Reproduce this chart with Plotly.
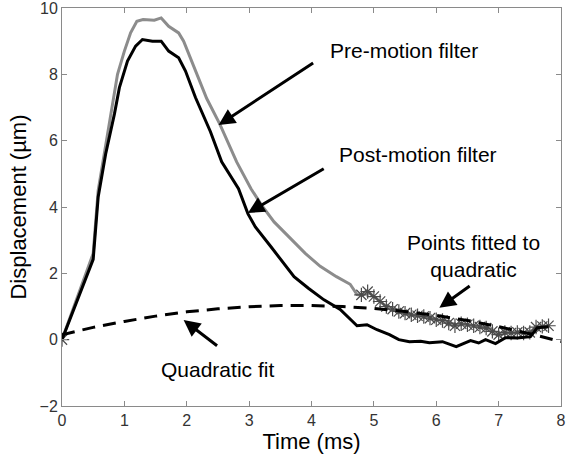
import plotly.graph_objects as go

# ---- data ----
t_pre = [0, 0.5, 0.58, 0.74, 0.89, 1.0, 1.1, 1.2, 1.3, 1.48, 1.59, 1.71, 1.87, 1.95,
         2.1, 2.32, 2.53, 2.8, 3.03, 3.22, 3.4, 3.67, 3.9, 4.14, 4.4, 4.62, 4.73]
d_pre = [0, 2.6, 4.5, 6.3, 8.0, 8.7, 9.25, 9.6, 9.65, 9.63, 9.7, 9.45, 9.25, 9.0,
         8.3, 7.27, 6.5, 5.36, 4.55, 4.0, 3.55, 3.03, 2.6, 2.21, 1.9, 1.67, 1.36]

t_pts = [4.8, 4.9, 5.0, 5.1, 5.2, 5.3, 5.4, 5.5, 5.6, 5.7, 5.8, 5.9, 6.0, 6.1, 6.2, 6.3,
         6.4, 6.5, 6.6, 6.7, 6.8, 6.9, 7.0, 7.1, 7.2, 7.3, 7.4, 7.5, 7.6, 7.7, 7.8]
d_pts = [1.35, 1.45, 1.3, 1.15, 1.0, 0.92, 0.85, 0.8, 0.75, 0.72, 0.7, 0.65, 0.6, 0.58,
         0.5, 0.42, 0.48, 0.45, 0.42, 0.38, 0.35, 0.25, 0.15, 0.22, 0.2, 0.22, 0.2, 0.22,
         0.38, 0.4, 0.42]

t_post = [0, 0.5, 0.58, 0.7, 0.84, 0.92, 1.05, 1.18, 1.29, 1.45, 1.59, 1.71, 1.87, 1.98,
          2.14, 2.38, 2.56, 2.83, 2.98, 3.1, 3.35, 3.55, 3.72, 3.95, 4.2, 4.46, 4.57, 4.73,
          4.89, 5.05, 5.25, 5.4, 5.57, 5.75, 5.89, 6.1, 6.32, 6.48, 6.55, 6.68, 6.79, 6.95,
          7.11, 7.3, 7.51, 7.62, 7.8]
d_post = [0, 2.42, 4.3, 5.6, 6.8, 7.6, 8.4, 8.85, 9.05, 9.0, 9.0, 8.7, 8.5, 8.1,
          7.3, 6.27, 5.36, 4.55, 3.8, 3.4, 2.8, 2.3, 1.9, 1.55, 1.2, 0.91, 0.7, 0.42,
          0.45, 0.3, 0.15, 0.0, -0.06, -0.05, -0.09, -0.06, -0.21, -0.1, -0.03, -0.1, 0.0, -0.12,
          0.06, 0.05, 0.09, 0.36, 0.39]

t_quad = [0, 0.5, 1, 1.5, 2, 2.5, 3, 3.5, 4, 4.5, 5, 5.5, 6, 6.5, 7, 7.5, 8]
d_quad = [0.15, 0.37, 0.55, 0.71, 0.84, 0.93, 0.99, 1.03, 1.03, 1.0, 0.94, 0.85, 0.73,
          0.58, 0.39, 0.18, -0.06]

x_ticks = [0, 1, 2, 3, 4, 5, 6, 7, 8]
y_ticks = [-2, 0, 2, 4, 6, 8, 10]

FONT = "Liberation Sans, Arial, sans-serif"

fig = go.Figure()
fig.add_trace(go.Scatter(x=t_pre + t_pts, y=d_pre + d_pts, mode="lines",
                         line=dict(color="#8c8c8c", width=3), showlegend=False))
fig.add_trace(go.Scatter(x=[0] + t_pts, y=[0] + d_pts, mode="markers",
                         marker=dict(symbol="asterisk-open", size=12, color="#4a4a4a",
                                     line=dict(color="#4a4a4a", width=1.2)),
                         showlegend=False))
fig.add_trace(go.Scatter(x=t_post, y=d_post, mode="lines",
                         line=dict(color="black", width=3), showlegend=False))
fig.add_trace(go.Scatter(x=t_quad, y=d_quad, mode="lines",
                         line=dict(color="black", width=3, dash="13px,8px"),
                         showlegend=False))

texts = [
    ("Pre-motion filter", 5.49, 8.73),
    ("Post-motion filter", 5.70, 5.57),
    ("Points fitted to<br>quadratic", 6.59, 2.52),
    ("Quadratic fit", 2.49, -0.9),
]
for txt, x, y in texts:
    fig.add_annotation(x=x, y=y, xref="x", yref="y", text=txt, showarrow=False,
                       font=dict(family=FONT, size=21, color="black"))

arrows = [
    ((4.05, 8.37), (2.51, 6.47)),
    ((4.22, 5.18), (2.98, 3.82)),
    ((6.56, 1.65), (6.05, 0.96)),
    ((2.51, -0.22), (1.95, 0.59)),
]
for (tx, ty), (hx, hy) in arrows:
    fig.add_annotation(x=hx, y=hy, ax=tx, ay=ty, xref="x", yref="y", axref="x", ayref="y",
                       text="", showarrow=True, arrowhead=2, arrowsize=1.1,
                       arrowwidth=3, arrowcolor="black")

axis_common = dict(showline=True, linecolor="#8a8a8a", linewidth=1, mirror="ticks",
                   ticks="inside", ticklen=5, tickcolor="#8a8a8a", showgrid=False,
                   zeroline=False, ticklabeloverflow="allow",
                   tickfont=dict(family=FONT, size=16, color="#333333"))

fig.update_xaxes(range=[0, 8], tickvals=x_ticks,
                 title=dict(text="Time (ms)", font=dict(family=FONT, size=22, color="black"),
                            standoff=4),
                 **axis_common)
fig.update_yaxes(range=[-2, 10], tickvals=y_ticks,
                 title=dict(text="Displacement (µm)",
                            font=dict(family=FONT, size=22, color="black"), standoff=6),
                 **axis_common)

fig.update_layout(width=566, height=461, autosize=False,
                  margin=dict(l=62, r=0, t=8, b=55),
                  plot_bgcolor="white", paper_bgcolor="white")

fig.write_html("out.html")
